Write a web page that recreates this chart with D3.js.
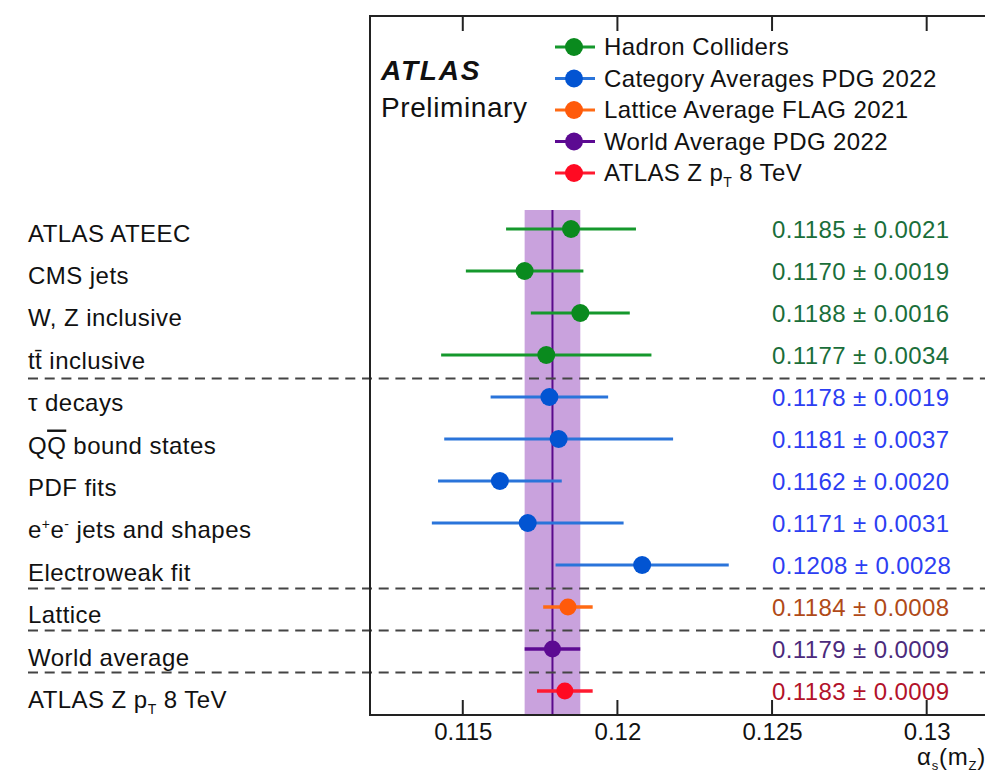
<!DOCTYPE html>
<html>
<head>
<meta charset="utf-8">
<script src="https://cdn.jsdelivr.net/npm/d3@7"></script>
<style>
  body { margin: 0; background: #fff; }
  svg { display: block; font-family: 'Liberation Sans', Arial, Helvetica, sans-serif; }
</style>
</head>
<body>
<svg width="985" height="772"></svg>
<script>
// measurements, top to bottom
let labels = ['ATLAS ATEEC', 'CMS jets', 'W, Z inclusive', 'tt inclusive',
  'tau decays', 'QQ bound states', 'PDF fits', 'e+e- jets and shapes', 'Electroweak fit',
  'Lattice', 'World average', 'ATLAS Z pT 8 TeV'];
let values = [0.1185, 0.1170, 0.1188, 0.1177,
  0.1178, 0.1181, 0.1162, 0.1171, 0.1208,
  0.1184, 0.1179, 0.1183];
let errors = [0.0021, 0.0019, 0.0016, 0.0034,
  0.0019, 0.0037, 0.0020, 0.0031, 0.0028,
  0.0008, 0.0009, 0.0009];
let groups = [0, 0, 0, 0, 1, 1, 1, 1, 1, 2, 3, 4];
let legendNames = ['Hadron Colliders', 'Category Averages PDG 2022', 'Lattice Average FLAG 2021',
  'World Average PDG 2022', 'ATLAS Z pT 8 TeV'];
let separators = [3.5, 8.5, 9.5, 10.5]; // dashed lines between rows
let worldAvg = 0.1179;
let worldErr = 0.0009;
let tickValues = [0.115, 0.12, 0.125, 0.13];
let tickLabels = ['0.115', '0.12', '0.125', '0.13'];

let markerColors = ['#0a8a1e', '#0254d2', '#ff5a0a', '#5c0a92', '#ff0a22'];
let lineColors = ['#15982c', '#2a74da', '#ff6a14', '#5c0a92', '#ff1a30'];
let textColors = ['#1a6e3a', '#2c3ef2', '#b04a18', '#4b2a7c', '#b2122a'];

let svg = d3.select('svg');
let plotL = 370, plotR = 1004, plotT = 16, plotB = 715;

let x = d3.scaleLinear().domain([0.112, 0.1325]).range([plotL, plotR]);
let y = d3.scaleLinear().domain([0, 11]).range([229, 691]);
let yLabel = d3.scaleLinear().domain([0, 11]).range([241.5, 708]);

let g = svg.append('g');

// world average band
g.append('rect')
  .attr('x', x(worldAvg - worldErr))
  .attr('y', 210)
  .attr('width', x(worldAvg + worldErr) - x(worldAvg - worldErr))
  .attr('height', plotB - 210)
  .attr('fill', '#c9a2dd');
g.append('line')
  .attr('x1', x(worldAvg)).attr('x2', x(worldAvg))
  .attr('y1', 210).attr('y2', plotB)
  .attr('stroke', '#5a0a8c')
  .attr('stroke-width', 2);

// separators
g.append('g')
  .selectAll('line')
  .data(separators)
  .enter()
  .append('line')
  .attr('x1', 28)
  .attr('x2', 985)
  .attr('y1', function(d) { return y(d) + 2.5; })
  .attr('y2', function(d) { return y(d) + 2.5; })
  .attr('stroke', '#444')
  .attr('stroke-width', 2)
  .attr('stroke-dasharray', '10,6.7');

let idx = d3.range(values.length);

// error bars
g.append('g')
  .selectAll('line')
  .data(idx)
  .enter()
  .append('line')
  .attr('x1', function(i) { return x(values[i] - errors[i]); })
  .attr('x2', function(i) { return x(values[i] + errors[i]); })
  .attr('y1', function(i) { return y(i); })
  .attr('y2', function(i) { return y(i); })
  .attr('stroke', function(i) { return lineColors[groups[i]]; })
  .attr('stroke-width', function(i) { return groups[i] >= 2 ? 3.5 : 3; });

// points
g.append('g')
  .selectAll('circle')
  .data(idx)
  .enter()
  .append('circle')
  .attr('cx', function(i) { return x(values[i]); })
  .attr('cy', function(i) { return y(i); })
  .attr('r', function(i) { return groups[i] >= 2 ? 8.5 : 9; })
  .attr('fill', function(i) { return markerColors[groups[i]]; });

// value texts
g.append('g')
  .selectAll('text')
  .data(idx)
  .enter()
  .append('text')
  .attr('x', 772)
  .attr('y', function(i) { return y(i) + 8.5; })
  .attr('font-size', 24)
  .attr('letter-spacing', 0.4)
  .attr('fill', function(i) { return textColors[groups[i]]; })
  .text(function(i) {
    return values[i].toFixed(4) + ' \u00b1 ' + errors[i].toFixed(4);
  });

// row labels
function writeLabel(sel, name) {
  if (name === 'tt inclusive') {
    sel.text('tt\u0304 inclusive');
  } else if (name === 'tau decays') {
    sel.text('\u03c4 decays');
  } else if (name === 'QQ bound states') {
    sel.append('tspan').text('Q');
    sel.append('tspan').attr('text-decoration', 'overline').text('Q');
    sel.append('tspan').text(' bound states');
  } else if (name === 'e+e- jets and shapes') {
    sel.append('tspan').text('e');
    sel.append('tspan').attr('font-size', 14).attr('dy', -9).text('+');
    sel.append('tspan').attr('dy', 9).text('e');
    sel.append('tspan').attr('font-size', 14).attr('dy', -9).text('-');
    sel.append('tspan').attr('dy', 9).text(' jets and shapes');
  } else if (name.indexOf(' pT ') >= 0) {
    let parts = name.split(' pT ');
    sel.append('tspan').text(parts[0] + ' p');
    sel.append('tspan').attr('font-size', 14).attr('dy', 6).text('T');
    sel.append('tspan').attr('dy', -6).text(' ' + parts[1]);
  } else {
    sel.text(name);
  }
}

g.append('g')
  .selectAll('text')
  .data(idx)
  .enter()
  .append('text')
  .attr('x', 28)
  .attr('y', function(i) { return yLabel(i); })
  .attr('font-size', 24)
  .attr('letter-spacing', 0.45)
  .attr('fill', '#111')
  .each(function(i) { writeLabel(d3.select(this), labels[i]); });

// frame
g.append('path')
  .attr('d', 'M' + plotR + ',' + plotT + 'H' + plotL + 'V' + plotB + 'H' + plotR)
  .attr('fill', 'none')
  .attr('stroke', '#222')
  .attr('stroke-width', 2);

// bottom axis
let axisB = g.append('g')
  .attr('transform', 'translate(0,' + plotB + ')')
  .call(d3.axisBottom(x).tickValues(tickValues).tickSize(0)
    .tickFormat(function(d, i) { return tickLabels[i]; }));
axisB.select('.domain').remove();
axisB.selectAll('text')
  .attr('font-size', 24)
  .attr('font-family', "'Liberation Sans', Arial, sans-serif")
  .attr('fill', '#111')
  .attr('dy', 0)
  .attr('y', 25);

// inward ticks top and bottom
g.append('g')
  .selectAll('line')
  .data(tickValues)
  .enter()
  .append('line')
  .attr('x1', function(d) { return x(d); })
  .attr('x2', function(d) { return x(d); })
  .attr('y1', plotB)
  .attr('y2', plotB - 15)
  .attr('stroke', '#222')
  .attr('stroke-width', 2);
g.append('g')
  .selectAll('line')
  .data(tickValues)
  .enter()
  .append('line')
  .attr('x1', function(d) { return x(d); })
  .attr('x2', function(d) { return x(d); })
  .attr('y1', plotT)
  .attr('y2', plotT + 15)
  .attr('stroke', '#222')
  .attr('stroke-width', 2);

// axis title
let title = g.append('text')
  .attr('x', 917)
  .attr('y', 765)
  .attr('font-size', 24)
  .attr('letter-spacing', 0.8)
  .attr('fill', '#111');
title.append('tspan').text('\u03b1');
title.append('tspan').attr('font-size', 13).attr('dy', 5).text('s');
title.append('tspan').attr('dy', -5).text('(m');
title.append('tspan').attr('font-size', 13).attr('dy', 5).text('Z');
title.append('tspan').attr('dy', -5).text(')');

// ATLAS label
g.append('text')
  .attr('x', 381)
  .attr('y', 80)
  .attr('font-size', 28)
  .attr('font-weight', 'bold')
  .attr('font-style', 'italic')
  .attr('letter-spacing', 1.8)
  .attr('fill', '#111')
  .text('ATLAS');
g.append('text')
  .attr('x', 381)
  .attr('y', 117)
  .attr('font-size', 28)
  .attr('letter-spacing', 0.6)
  .attr('fill', '#111')
  .text('Preliminary');

// legend
let ly = d3.scaleLinear().domain([0, 4]).range([47, 173]);
let leg = g.append('g')
  .selectAll('g')
  .data(legendNames)
  .enter()
  .append('g')
  .attr('transform', function(d, i) { return 'translate(0,' + ly(i) + ')'; });
leg.append('line')
  .attr('x1', 555).attr('x2', 595)
  .attr('stroke', function(d, i) { return lineColors[i]; })
  .attr('stroke-width', 3);
leg.append('circle')
  .attr('cx', 574)
  .attr('r', 9)
  .attr('fill', function(d, i) { return markerColors[i]; });
leg.append('text')
  .attr('x', 604)
  .attr('y', 8)
  .attr('font-size', 24)
  .attr('letter-spacing', 0.4)
  .attr('fill', '#111')
  .each(function(d) { writeLabel(d3.select(this), d); });
</script>
</body>
</html>
